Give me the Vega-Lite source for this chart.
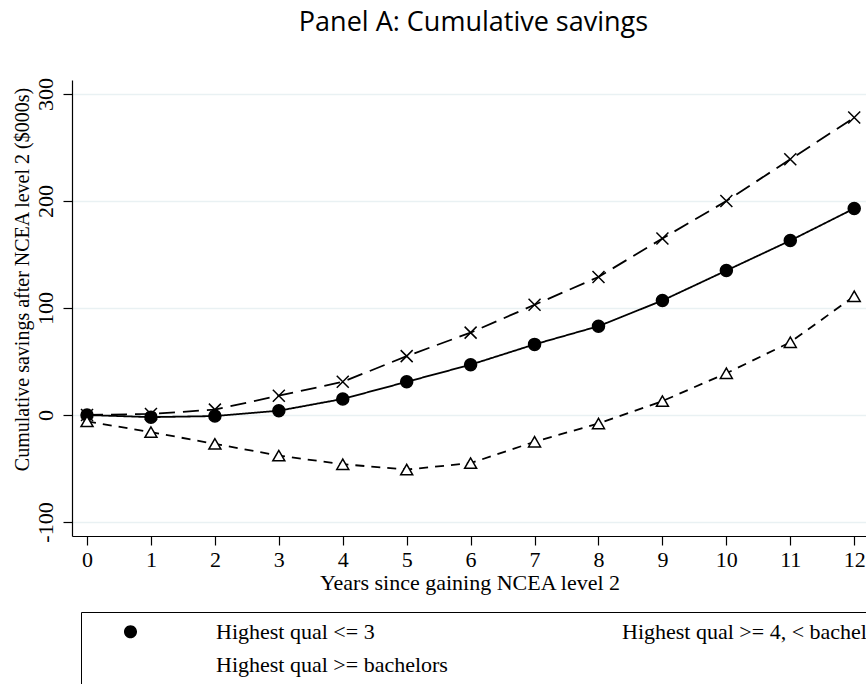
{
  "$schema": "https://vega.github.io/schema/vega-lite/v6.json",
  "width": 795,
  "height": 456,
  "autosize": {"type": "none"},
  "padding": {"left": 72, "top": 80, "right": 0, "bottom": 148},
  "background": "white",
  "title": {
    "text": "Panel A: Cumulative savings",
    "font": "Open Sans",
    "fontSize": 27,
    "fontWeight": "normal",
    "color": "black",
    "anchor": "middle",
    "frame": "group",
    "offset": 41,
    "dx": 4
  },
  "config": {
    "view": {"stroke": null},
    "axis": {
      "labelFont": "Liberation Serif",
      "labelFontSize": 22,
      "labelColor": "black",
      "titleFont": "Liberation Serif",
      "titleFontSize": 22,
      "titleFontWeight": "normal",
      "titleColor": "black",
      "domainColor": "black",
      "domainWidth": 1.2,
      "tickColor": "black",
      "tickWidth": 1.2,
      "tickSize": 9
    },
    "legend": {
      "labelFont": "Liberation Serif",
      "labelFontSize": 22,
      "labelColor": "black",
      "labelLimit": 500
    }
  },
  "data": {
    "values": [
      {"year": 0, "group": "Highest qual <= 3", "value": 0},
      {"year": 1, "group": "Highest qual <= 3", "value": -2},
      {"year": 2, "group": "Highest qual <= 3", "value": -1},
      {"year": 3, "group": "Highest qual <= 3", "value": 4},
      {"year": 4, "group": "Highest qual <= 3", "value": 15},
      {"year": 5, "group": "Highest qual <= 3", "value": 31},
      {"year": 6, "group": "Highest qual <= 3", "value": 47},
      {"year": 7, "group": "Highest qual <= 3", "value": 66},
      {"year": 8, "group": "Highest qual <= 3", "value": 83},
      {"year": 9, "group": "Highest qual <= 3", "value": 107},
      {"year": 10, "group": "Highest qual <= 3", "value": 135},
      {"year": 11, "group": "Highest qual <= 3", "value": 163},
      {"year": 12, "group": "Highest qual <= 3", "value": 193},
      {"year": 0, "group": "Highest qual >= 4, < bachelors", "value": 0},
      {"year": 1, "group": "Highest qual >= 4, < bachelors", "value": 1},
      {"year": 2, "group": "Highest qual >= 4, < bachelors", "value": 5},
      {"year": 3, "group": "Highest qual >= 4, < bachelors", "value": 18},
      {"year": 4, "group": "Highest qual >= 4, < bachelors", "value": 31},
      {"year": 5, "group": "Highest qual >= 4, < bachelors", "value": 55},
      {"year": 6, "group": "Highest qual >= 4, < bachelors", "value": 77},
      {"year": 7, "group": "Highest qual >= 4, < bachelors", "value": 103},
      {"year": 8, "group": "Highest qual >= 4, < bachelors", "value": 129},
      {"year": 9, "group": "Highest qual >= 4, < bachelors", "value": 165},
      {"year": 10, "group": "Highest qual >= 4, < bachelors", "value": 200},
      {"year": 11, "group": "Highest qual >= 4, < bachelors", "value": 239},
      {"year": 12, "group": "Highest qual >= 4, < bachelors", "value": 278},
      {"year": 0, "group": "Highest qual >= bachelors", "value": -6},
      {"year": 1, "group": "Highest qual >= bachelors", "value": -16},
      {"year": 2, "group": "Highest qual >= bachelors", "value": -27},
      {"year": 3, "group": "Highest qual >= bachelors", "value": -38},
      {"year": 4, "group": "Highest qual >= bachelors", "value": -46},
      {"year": 5, "group": "Highest qual >= bachelors", "value": -51},
      {"year": 6, "group": "Highest qual >= bachelors", "value": -45},
      {"year": 7, "group": "Highest qual >= bachelors", "value": -25},
      {"year": 8, "group": "Highest qual >= bachelors", "value": -8},
      {"year": 9, "group": "Highest qual >= bachelors", "value": 13},
      {"year": 10, "group": "Highest qual >= bachelors", "value": 39},
      {"year": 11, "group": "Highest qual >= bachelors", "value": 68},
      {"year": 12, "group": "Highest qual >= bachelors", "value": 111}
    ]
  },
  "encoding": {
    "x": {
      "field": "year",
      "type": "quantitative",
      "scale": {"domain": [-0.235, 12.2], "nice": false, "zero": false},
      "axis": {
        "values": [0, 1, 2, 3, 4, 5, 6, 7, 8, 9, 10, 11, 12],
        "grid": false,
        "title": "Years since gaining NCEA level 2",
        "labelPadding": 4,
        "titleBaseline": "top",
        "titleY": 36
      }
    },
    "y": {
      "field": "value",
      "type": "quantitative",
      "scale": {"domain": [-113.1, 313.1], "nice": false, "zero": false},
      "axis": {
        "values": [-100, 0, 100, 200, 300],
        "labelExpr": "datum.value < 0 ? '-' + abs(datum.value) : '' + datum.value",
        "grid": true,
        "gridColor": "#E9F1F3",
        "gridWidth": 1.5,
        "labelAngle": -90,
        "labelAlign": "center",
        "labelBaseline": "bottom",
        "labelPadding": 6,
        "title": "Cumulative savings after NCEA level 2 ($000s)",
        "titleFontSize": 20,
        "titleAngle": -90,
        "titleAlign": "center",
        "titleBaseline": "bottom",
        "titleX": -40,
        "titleY": 199
      }
    }
  },
  "layer": [
    {
      "mark": {"type": "line", "stroke": "black", "strokeWidth": 1.8},
      "encoding": {
        "detail": {"field": "group"},
        "strokeDash": {
          "field": "group",
          "type": "nominal",
          "scale": {
            "domain": ["Highest qual >= bachelors", "Highest qual <= 3", "Highest qual >= 4, < bachelors"],
            "range": [[9, 7], [1, 0], [16, 8]]
          },
          "legend": null
        }
      }
    },
    {
      "mark": {"type": "point", "stroke": "black", "strokeWidth": 1.5, "opacity": 1, "size": 144},
      "encoding": {
        "shape": {
          "field": "group",
          "type": "nominal",
          "scale": {
            "domain": ["Highest qual >= bachelors", "Highest qual <= 3", "Highest qual >= 4, < bachelors"],
            "range": ["triangle-up", "circle", "M-1,-1L1,1M-1,1L1,-1"]
          },
          "legend": null
        },
        "fill": {
          "field": "group",
          "type": "nominal",
          "scale": {
            "domain": ["Highest qual >= bachelors", "Highest qual <= 3", "Highest qual >= 4, < bachelors"],
            "range": ["white", "black", "black"]
          },
          "legend": null
        }
      }
    },
    {
      "mark": {"type": "point", "filled": false, "stroke": "black", "strokeWidth": 1.5, "opacity": 0, "size": 144},
      "encoding": {
        "shape": {
          "field": "group",
          "type": "nominal",
          "scale": {
            "domain": ["Highest qual <= 3", "Highest qual >= 4, < bachelors", "Highest qual >= bachelors"],
            "range": [
              "M-4,0H4M-0.628,0A0.628,0.628,0,1,1,0.628,0A0.628,0.628,0,1,1,-0.628,0Z",
              "M-4,0H-2.4M-1.04,0H0.88M2.48,0H4M-0.58,-0.58L0.58,0.58M-0.58,0.58L0.58,-0.58",
              "M-4,0H-3.2M-2.52,0H-1.68M0.56,0H1.4M2.08,0H2.96M3.6,0H3.76M0,-0.52L-0.6,0.48L0.6,0.48Z"
            ]
          },
          "legend": {
            "title": null,
            "orient": "none",
            "legendX": 9,
            "legendY": 532,
            "direction": "horizontal",
            "columns": 2,
            "columnPadding": 43,
            "rowPadding": 10,
            "gridAlign": "each",
            "padding": 8,
            "strokeColor": "black",
            "fillColor": "white",
            "symbolSize": 431,
            "symbolOffset": 30,
            "symbolStrokeWidth": 1.5,
            "symbolStrokeColor": "black",
            "symbolOpacity": 1,
            "labelOffset": 74,
            "labelLimit": 500
          }
        },
        "fill": {
          "field": "group",
          "type": "nominal",
          "scale": {
            "domain": ["Highest qual <= 3", "Highest qual >= 4, < bachelors", "Highest qual >= bachelors"],
            "range": ["black", "black", "white"]
          },
          "legend": {
            "title": null,
            "orient": "none",
            "legendX": 9,
            "legendY": 532,
            "direction": "horizontal",
            "columns": 2,
            "columnPadding": 43,
            "rowPadding": 10,
            "gridAlign": "each",
            "padding": 8,
            "strokeColor": "black",
            "fillColor": "white",
            "symbolSize": 431,
            "symbolOffset": 30,
            "symbolStrokeWidth": 1.5,
            "symbolStrokeColor": "black",
            "symbolOpacity": 1,
            "labelOffset": 74,
            "labelLimit": 500
          }
        }
      }
    }
  ],
  "resolve": {"scale": {"shape": "independent", "fill": "independent", "strokeDash": "independent"}}
}
